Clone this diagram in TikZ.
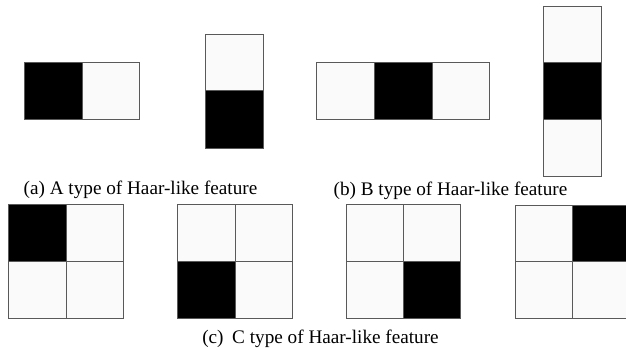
\documentclass[tikz,border=0pt]{standalone}
\usepackage{fontspec}
\setmainfont{Liberation Serif}
\tikzset{
  wcell/.style={fill=white!98!black, draw=black!65, line width=0.9pt},
  bcell/.style={fill=black, draw=black!65, line width=0.9pt},
  caption/.style={font=\fontsize{19.2}{22}\selectfont, inner sep=0pt, anchor=base}
}
\begin{document}
\begin{tikzpicture}[x=1pt,y=-1pt]
\useasboundingbox (0,0) rectangle (626,349);
\clip (0,0) rectangle (626,349);
% A type
\draw[bcell] (24,62) rectangle (82,119);
\draw[wcell] (82,62) rectangle (139,119);
\draw[wcell] (205,34) rectangle (263,90);
\draw[bcell] (205,90) rectangle (263,148);
% B type
\draw[wcell] (316,62) rectangle (374,119);
\draw[bcell] (374,62) rectangle (432,119);
\draw[wcell] (432,62) rectangle (489,119);
\draw[wcell] (543,6) rectangle (601,62);
\draw[bcell] (543,62) rectangle (601,119);
\draw[wcell] (543,119) rectangle (601,176);
% C type
\draw[bcell] (8,204) rectangle (66,261);
\draw[wcell] (66,204) rectangle (123,261);
\draw[wcell] (8,261) rectangle (66,318);
\draw[wcell] (66,261) rectangle (123,318);
\draw[wcell] (177,204) rectangle (235,261);
\draw[wcell] (235,204) rectangle (292,261);
\draw[bcell] (177,261) rectangle (235,318);
\draw[wcell] (235,261) rectangle (292,318);
\draw[wcell] (346,204) rectangle (403,261);
\draw[wcell] (403,204) rectangle (460,261);
\draw[wcell] (346,261) rectangle (403,318);
\draw[bcell] (403,261) rectangle (460,318);
\draw[wcell] (515,205) rectangle (572,261);
\draw[bcell] (572,205) rectangle (630,261);
\draw[wcell] (515,261) rectangle (572,318);
\draw[wcell] (572,261) rectangle (630,318);
% captions
\node[caption] (capa) at (140.5,194) {(a) A type of Haar-like feature};
\node[caption] (capb) at (450.5,195) {(b) B type of Haar-like feature};
\node[caption] (capc) at (320.5,343) {(c)\hspace{0.45em}C type of Haar-like feature};
\end{tikzpicture}
\end{document}
